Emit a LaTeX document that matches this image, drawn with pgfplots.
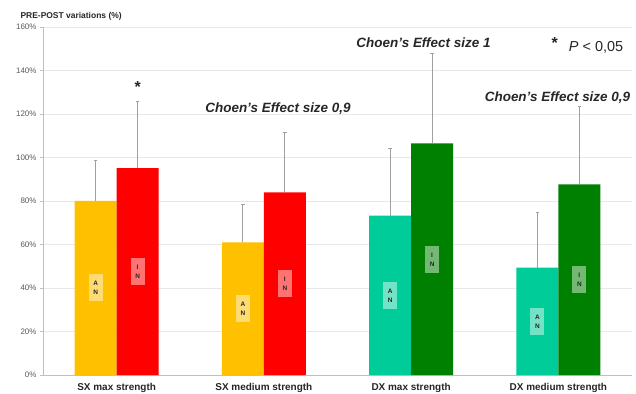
\documentclass[border=0pt]{standalone}
\usepackage{pgfplots}
\pgfplotsset{compat=1.18}
\usepackage{fontspec}
\setmainfont{Liberation Sans}

\definecolor{anSX}{RGB}{255,192,0}
\definecolor{inSX}{RGB}{255,0,0}
\definecolor{anDX}{RGB}{0,204,153}
\definecolor{inDX}{RGB}{0,128,0}
\definecolor{axisgray}{RGB}{191,191,191}
\definecolor{gridgray}{RGB}{232,232,232}
\definecolor{labgray}{RGB}{89,89,89}
\definecolor{errgray}{RGB}{160,160,160}

\tikzset{
  grp/.style={fill=white, fill opacity=0.45, text opacity=1, text=black!85,
    inner sep=0pt, minimum width=14bp, minimum height=27bp, align=center,
    font=\fontsize{6.5}{9}\selectfont\bfseries},
  eff/.style={font=\fontsize{13.5}{15}\selectfont\bfseries\itshape, text=black!85},
}

\begin{document}
\begin{tikzpicture}
\begin{axis}[
  scale only axis,
  width=589bp, height=348bp,
  xmin=-0.5, xmax=3.5,
  ymin=0, ymax=160,
  axis x line=bottom, axis y line=left,
  axis line style={axisgray, line width=0.8bp, -},
  ytick={0,20,...,160},
  yticklabel={\pgfmathprintnumber{\tick}\%},
  yticklabel style={font=\fontsize{8}{9}\selectfont, text=labgray},
  ytick style={axisgray},
  tick align=outside,
  major tick length=3bp,
  ymajorgrids,
  grid style={gridgray, line width=0.6bp},
  xtick={0,1,2,3},
  xticklabels={SX max strength, SX medium strength, DX max strength, DX medium strength},
  xticklabel style={font=\fontsize{10}{12}\selectfont\bfseries, text=black!85,
    anchor=base, yshift=-12bp},
  x tick style={draw=none},
  extra x ticks={0.5,1.5,2.5,3.5},
  extra x tick labels={},
  extra x tick style={grid=none, tick style={axisgray, draw=axisgray}},
  /pgf/number format/assume math mode=true,
  clip=false,
  error bars/y dir=plus,
  error bars/y explicit,
  error bars/error bar style={errgray, line width=0.8bp},
  error bars/error mark options={errgray, mark size=1.8bp, line width=0.8bp, rotate=90},
]
% AN group, left limb
\addplot[ybar, bar width=0.285, bar shift=0pt, fill=anSX, draw=none]
  coordinates {(-0.1425,80) +- (0,18.6) (0.8575,61) +- (0,17.4)};
% IN group, left limb
\addplot[ybar, bar width=0.285, bar shift=0pt, fill=inSX, draw=none]
  coordinates {(0.1425,95.1) +- (0,30.9) (1.1425,84) +- (0,27.7)};
% AN group, right limb
\addplot[ybar, bar width=0.285, bar shift=0pt, fill=anDX, draw=none]
  coordinates {(1.8575,73.3) +- (0,30.7) (2.8575,49.4) +- (0,25.4)};
% IN group, right limb
\addplot[ybar, bar width=0.285, bar shift=0pt, fill=inDX, draw=none]
  coordinates {(2.1425,106.5) +- (0,41.5) (3.1425,87.6) +- (0,35.7)};

% group tags inside the bars
\node[grp] at (axis cs:-0.1425,40) {A\\N};
\node[grp] at (axis cs:0.1425,47.5) {I\\N};
\node[grp] at (axis cs:0.8575,30.5) {A\\N};
\node[grp] at (axis cs:1.1425,42) {I\\N};
\node[grp] at (axis cs:1.8575,36.5) {A\\N};
\node[grp] at (axis cs:2.1425,53) {I\\N};
\node[grp] at (axis cs:2.8575,24.6) {A\\N};
\node[grp] at (axis cs:3.1425,44) {I\\N};

% significance and effect sizes
\node[font=\fontsize{16}{16}\selectfont\bfseries, text=black!85] at (axis cs:0.1425,132.5) {*};
\node[eff] at (axis cs:1.096,122.5) {Choen's Effect size 0,9};
\node[eff] at (axis cs:2.084,152.8) {Choen's Effect size 1};
\node[eff] at (axis cs:2.994,127.5) {Choen's Effect size 0,9};
\node[font=\fontsize{16}{16}\selectfont\bfseries, text=black!85] at (axis cs:2.976,152.5) {*};
\node[font=\fontsize{14.5}{16}\selectfont, text=black!85] at (axis cs:3.256,150.6) {\textit{P} < 0,05};

% axis title
\node[anchor=base west, font=\fontsize{8.5}{10}\selectfont\bfseries, text=black!85]
  at ([shift={(-26bp,8.5bp)}]rel axis cs:0,1) {PRE-POST variations (\%)};
\end{axis}
\pgfresetboundingbox
\path[use as bounding box] ([shift={(-43bp,-19bp)}]current axis.south west)
  rectangle ([shift={(4bp,27bp)}]current axis.north east);
\end{tikzpicture}
\end{document}
